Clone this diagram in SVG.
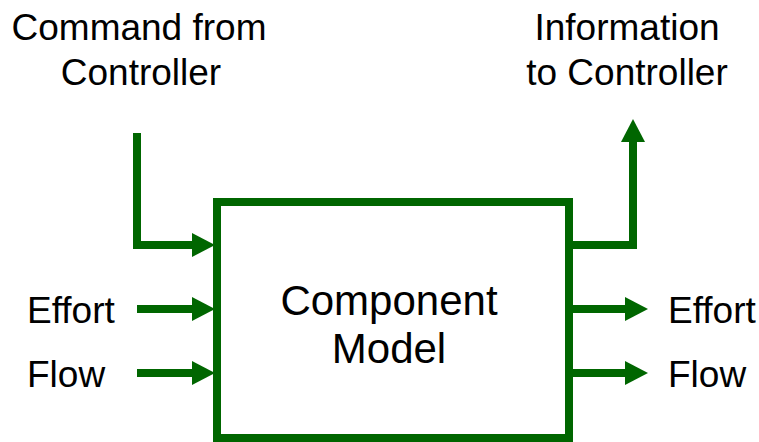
<svg xmlns="http://www.w3.org/2000/svg" width="759" height="442" viewBox="0 0 759 442">
  <style>
    .lbl { font-family: "Liberation Sans", Arial, sans-serif; font-size: 37px; fill: #000; }
    .big { font-family: "Liberation Sans", Arial, sans-serif; font-size: 42px; fill: #000; }
    .wire { fill: none; stroke: #006600; stroke-width: 8; stroke-linejoin: miter; stroke-linecap: butt; }
    .box { fill: #fff; stroke: #006600; stroke-width: 8; }
  </style>
  <defs>
    <marker id="arrow" viewBox="0 0 23 24" refX="1" refY="12" markerWidth="23" markerHeight="24" markerUnits="userSpaceOnUse" orient="auto">
      <path d="M0,0 L23,12 L0,24 z" fill="#006600"/>
    </marker>
  </defs>
  <rect width="759" height="442" fill="#fff"/>

  <g id="connectors">
    <path class="wire" d="M137,133 V245 H193" marker-end="url(#arrow)"/>
    <path class="wire" d="M137,309 H193" marker-end="url(#arrow)"/>
    <path class="wire" d="M137,373 H193" marker-end="url(#arrow)"/>
    <path class="wire" d="M569,245 H633 V141" marker-end="url(#arrow)"/>
    <path class="wire" d="M569,309 H626" marker-end="url(#arrow)"/>
    <path class="wire" d="M569,373 H626" marker-end="url(#arrow)"/>
  </g>

  <g id="component">
    <rect class="box" x="217" y="202" width="352" height="236"/>
    <text class="big" text-anchor="middle" x="389" y="315">Component</text>
    <text class="big" text-anchor="middle" x="389" y="363">Model</text>
  </g>

  <g id="command-label">
    <text class="lbl" text-anchor="middle" x="139" y="40">Command from</text>
    <text class="lbl" text-anchor="middle" x="141" y="85">Controller</text>
  </g>

  <g id="info-label">
    <text class="lbl" text-anchor="middle" x="627" y="40">Information</text>
    <text class="lbl" text-anchor="middle" x="627" y="85">to Controller</text>
  </g>

  <g id="in-labels">
    <text class="lbl" x="27" y="323">Effort</text>
    <text class="lbl" x="27" y="387">Flow</text>
  </g>

  <g id="out-labels">
    <text class="lbl" x="668" y="323">Effort</text>
    <text class="lbl" x="668" y="387">Flow</text>
  </g>
</svg>
